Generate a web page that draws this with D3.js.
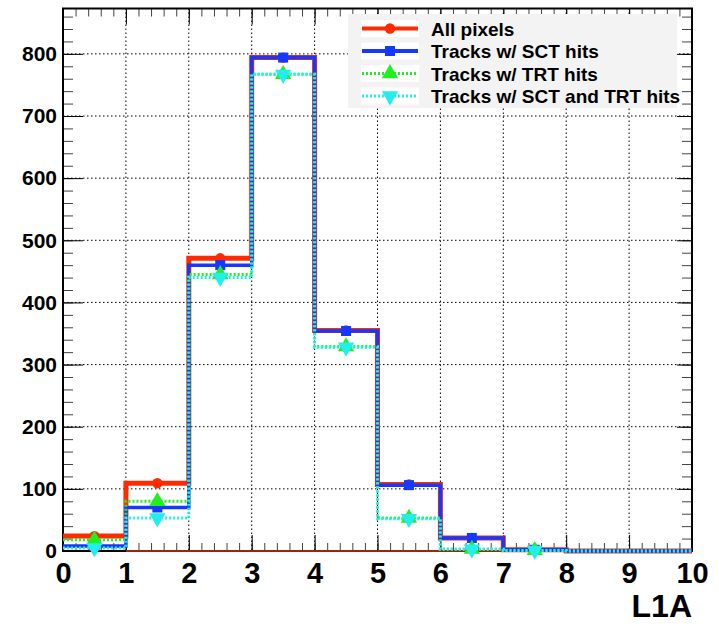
<!DOCTYPE html>
<html>
<head>
<meta charset="utf-8">
<script src="https://cdn.jsdelivr.net/npm/d3@7"></script>
<style>
  body { margin: 0; background: #fff; }
  text { font-family: "Liberation Sans", Arial, Helvetica, sans-serif; font-weight: bold; }
</style>
</head>
<body>
<div class="graph"></div>
<script>
// bin lower edges (bin width 1)
var bins = [0, 1, 2, 3, 4, 5, 6, 7, 8, 9];
var allPixels  = [24, 109, 471, 794, 355, 107, 21, 2, 0, 0];
var sctHits    = [8, 70, 460, 794, 354, 106, 21, 2, 0, 0];
var trtHits    = [18, 80, 445, 767, 329, 53, 3, 1, 0, 0];
var sctTrtHits = [5, 53, 440, 767, 328, 52, 3, 1, 0, 0];
var legendLabels = ["All pixels", "Tracks w/ SCT hits", "Tracks w/ TRT hits", "Tracks w/ SCT and TRT hits"];
var xTicks = [0, 1, 2, 3, 4, 5, 6, 7, 8, 9, 10];
var yTicks = [0, 100, 200, 300, 400, 500, 600, 700, 800];

var margin = {top: 8.5, right: 27, bottom: 78, left: 63},
    width = 719 - margin.left - margin.right,
    height = 629 - margin.top - margin.bottom;

var x = d3.scaleLinear().domain([0, 10]).range([0, width]);
var y = d3.scaleLinear().domain([0, 873]).range([height, 0]);

var svg = d3.select(".graph").append("svg")
    .attr("width", 719)
    .attr("height", 629)
  .append("g")
    .attr("transform", "translate(" + margin.left + "," + margin.top + ")");

// dotted grid
svg.selectAll(".vgrid").data(xTicks.slice(1, -1)).enter().append("line")
    .attr("x1", function(d) { return x(d); }).attr("x2", function(d) { return x(d); })
    .attr("y1", 0).attr("y2", height)
    .attr("stroke", "#000").attr("stroke-width", 1).attr("stroke-dasharray", "1.5,2.5");
svg.selectAll(".hgrid").data(yTicks.slice(1)).enter().append("line")
    .attr("y1", function(d) { return y(d); }).attr("y2", function(d) { return y(d); })
    .attr("x1", 0).attr("x2", width)
    .attr("stroke", "#000").attr("stroke-width", 1).attr("stroke-dasharray", "1.5,2.5");

// axes (ticks pointing inward)
var minorX = d3.range(0, 10.01, 0.2);
var minorY = d3.range(0, 873, 20);

function styleAxis(g) {
  g.select(".domain").remove();
  g.selectAll("line").attr("stroke", "#000");
}

svg.append("g").attr("transform", "translate(0," + height + ")")
    .call(d3.axisBottom(x).tickValues(minorX).tickSizeInner(-8).tickSizeOuter(0).tickFormat(""))
    .call(styleAxis).selectAll("line").attr("stroke", "#444");
svg.append("g").attr("class", "xaxis").attr("transform", "translate(0," + height + ")")
    .call(d3.axisBottom(x).tickValues(xTicks).tickSizeInner(-16).tickSizeOuter(0).tickPadding(11))
    .call(styleAxis);
svg.append("g")
    .call(d3.axisTop(x).tickValues(minorX).tickSizeInner(-8).tickSizeOuter(0).tickFormat(""))
    .call(styleAxis).selectAll("line").attr("stroke", "#444");
svg.append("g")
    .call(d3.axisTop(x).tickValues(xTicks).tickSizeInner(-16).tickSizeOuter(0).tickFormat(""))
    .call(styleAxis);

svg.append("g")
    .call(d3.axisLeft(y).tickValues(minorY).tickSizeInner(-10).tickSizeOuter(0).tickFormat(""))
    .call(styleAxis).selectAll("line").attr("stroke", "#444");
svg.append("g").attr("class", "yaxis")
    .call(d3.axisLeft(y).tickValues(yTicks).tickSizeInner(-20).tickSizeOuter(0).tickPadding(6))
    .call(styleAxis);
svg.append("g").attr("transform", "translate(" + width + ",0)")
    .call(d3.axisRight(y).tickValues(minorY).tickSizeInner(-10).tickSizeOuter(0).tickFormat(""))
    .call(styleAxis).selectAll("line").attr("stroke", "#444");
svg.append("g").attr("transform", "translate(" + width + ",0)")
    .call(d3.axisRight(y).tickValues(yTicks).tickSizeInner(-15).tickSizeOuter(0).tickFormat(""))
    .call(styleAxis);

svg.select(".xaxis").selectAll("text")
    .attr("font-size", "29px").attr("fill", "#000");
svg.select(".yaxis").selectAll("text")
    .attr("font-size", "21px").attr("fill", "#000");

// frame
svg.append("rect")
    .attr("x", 0).attr("y", 0).attr("width", width).attr("height", height)
    .attr("fill", "none").attr("stroke", "#000").attr("stroke-width", 2);

// histograms
var series = [
  {name: legendLabels[0], values: allPixels,  color: "#ff2a00", width: 5,   dash: null,  symbol: d3.symbolCircle,   rot: 0},
  {name: legendLabels[1], values: sctHits,    color: "#1438ff", width: 3.5, dash: null,  symbol: d3.symbolSquare,   rot: 0},
  {name: legendLabels[2], values: trtHits,    color: "#22ee22", width: 3,   dash: "2,2", symbol: d3.symbolTriangle, rot: 0},
  {name: legendLabels[3], values: sctTrtHits, color: "#22eeee", width: 3,   dash: "2,2", symbol: d3.symbolTriangle, rot: 180}
];

function markerSize(s) {
  if (s.symbol === d3.symbolTriangle) return 115;
  if (s.symbol === d3.symbolSquare) return 100;
  return 85;
}

var valueline = d3.line()
    .x(function(d) { return x(d[0]); })
    .y(function(d) { return y(d[1]); })
    .curve(d3.curveStepAfter);

// red outline along baseline (ROOT closes the all-pixels histogram)
svg.append("line")
    .attr("x1", x(1)).attr("x2", x(10)).attr("y1", height).attr("y2", height)
    .attr("stroke", "#d03010").attr("stroke-width", 1.5);

series.forEach(function(s) {
  var pts = bins.map(function(b, i) { return [b, s.values[i]]; });
  pts.push([10, s.values[s.values.length - 1]]);
  svg.append("path")
      .datum(pts)
      .attr("fill", "none")
      .attr("stroke", s.color)
      .attr("stroke-width", s.width)
      .attr("stroke-dasharray", s.dash)
      .attr("d", valueline);
});

series.forEach(function(s) {
  var pts = bins.map(function(b, i) { return [b + 0.5, s.values[i]]; })
      .filter(function(d) { return d[1] > 0; });
  svg.selectAll(null).data(pts).enter().append("path")
      .attr("d", d3.symbol().type(s.symbol).size(markerSize(s)))
      .attr("transform", function(d) { return "translate(" + x(d[0]) + "," + y(d[1]) + ") rotate(" + s.rot + ")"; })
      .attr("fill", s.color);
});

// x title
svg.append("text")
    .attr("x", width).attr("y", 616.5 - margin.top)
    .attr("text-anchor", "end")
    .attr("font-size", "32px")
    .text("L1A");

// legend
var leg = d3.select("svg").append("g");
leg.append("rect")
    .attr("x", 348).attr("y", 14).attr("width", 329).attr("height", 94)
    .attr("fill", "#f3f3f3");
series.forEach(function(s, i) {
  var cy = 28.5 + i * 22.5;
  leg.append("rect").attr("x", 361).attr("y", cy - 8.5).attr("width", 58).attr("height", 17).attr("fill", "#fff");
  leg.append("line")
      .attr("x1", 362).attr("x2", 418).attr("y1", cy).attr("y2", cy)
      .attr("stroke", s.color).attr("stroke-width", s.width > 3 ? 4 : 3)
      .attr("stroke-dasharray", s.dash);
  leg.append("path")
      .attr("d", d3.symbol().type(s.symbol).size(markerSize(s)))
      .attr("transform", "translate(390," + cy + ") rotate(" + s.rot + ")")
      .attr("fill", s.color);
  leg.append("text")
      .attr("x", 431).attr("y", cy + 7)
      .attr("font-size", "19px")
      .text(s.name);
});
</script>
</body>
</html>
